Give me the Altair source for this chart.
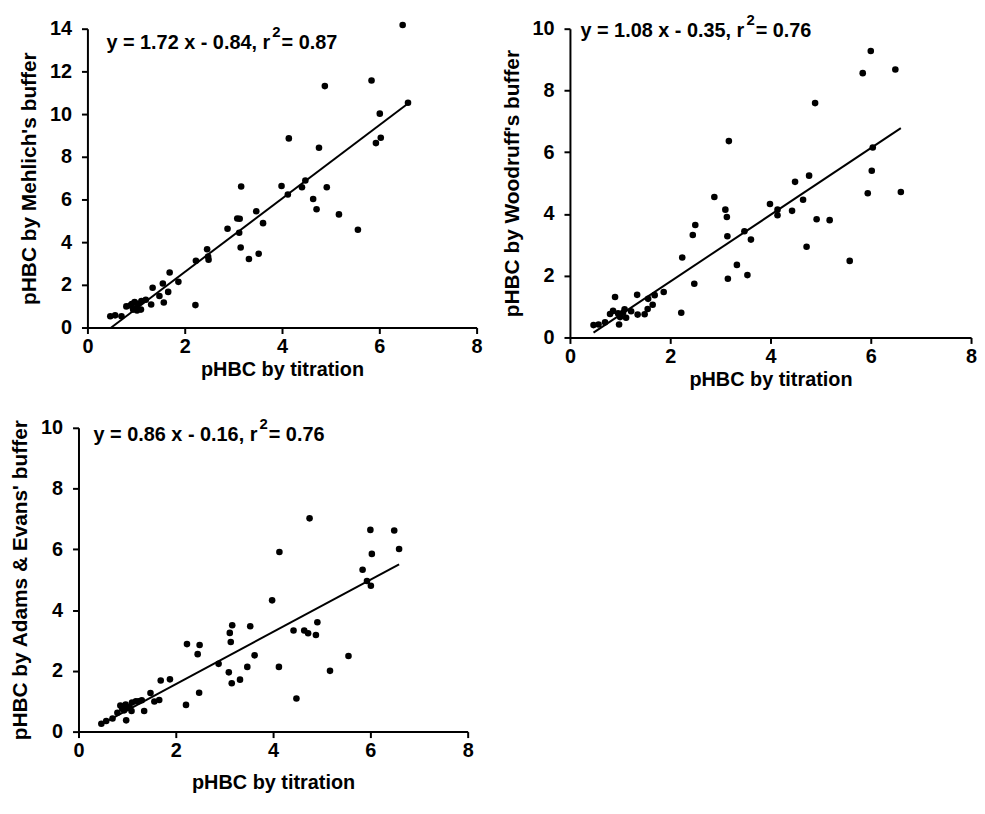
import altair as alt
import pandas as pd

# ---------------- data ----------------
p1_x = [0.47, 0.57, 0.70, 0.80, 0.88, 0.91, 0.94, 0.97, 1.00, 1.02, 1.04, 1.10, 1.11, 1.20, 1.31,
        1.34, 1.48, 1.55, 1.57, 1.66, 1.69, 1.87, 2.22, 2.23, 2.46, 2.48, 2.49, 2.88, 3.08, 3.13,
        3.12, 3.15, 3.16, 3.32, 3.47, 3.52, 3.61, 3.99, 4.12, 4.14, 4.41, 4.48, 4.64, 4.71, 4.76,
        4.88, 4.92, 5.17, 5.56, 5.84, 5.93, 6.01, 6.03, 6.48, 6.59]
p1_y = [0.53, 0.57, 0.53, 0.99, 1.03, 1.10, 0.84, 1.19, 0.90, 0.80, 1.11, 0.84, 1.24, 1.30, 1.08,
        1.86, 1.48, 2.06, 1.17, 1.67, 2.58, 2.14, 1.05, 3.13, 3.67, 3.33, 3.18, 4.63, 5.11, 5.10,
        4.44, 3.75, 6.61, 3.21, 5.45, 3.46, 4.89, 6.63, 6.23, 8.86, 6.57, 6.89, 6.02, 5.54, 8.42,
        11.31, 6.57, 5.30, 4.58, 11.57, 8.64, 10.02, 8.89, 14.17, 10.53]

p2_x = [0.47, 0.57, 0.70, 0.80, 0.86, 0.90, 0.96, 0.98, 1.00, 1.06, 1.09, 1.12, 1.22, 1.34, 1.35,
        1.49, 1.55, 1.56, 1.65, 1.69, 1.87, 2.22, 2.24, 2.45, 2.48, 2.50, 2.88, 3.10, 3.13, 3.14,
        3.15, 3.17, 3.33, 3.48, 3.54, 3.61, 3.99, 4.14, 4.14, 4.43, 4.49, 4.65, 4.72, 4.77, 4.89,
        4.92, 5.18, 5.58, 5.84, 5.94, 6.00, 6.02, 6.04, 6.49, 6.60]
p2_y = [0.40, 0.42, 0.49, 0.76, 0.86, 1.31, 0.78, 0.42, 0.66, 0.80, 0.91, 0.64, 0.85, 1.38, 0.74,
        0.75, 0.92, 1.25, 1.06, 1.37, 1.47, 0.80, 2.59, 3.32, 1.74, 3.64, 4.55, 4.14, 3.90, 3.28,
        1.90, 6.36, 2.35, 3.44, 2.02, 3.17, 4.32, 4.14, 3.96, 4.10, 5.04, 4.46, 2.94, 5.24, 7.59,
        3.83, 3.80, 2.48, 8.56, 4.67, 9.28, 5.40, 6.15, 8.68, 4.71]

p3_x = [0.47, 0.57, 0.70, 0.80, 0.86, 0.90, 0.94, 0.97, 0.98, 1.00, 1.05, 1.09, 1.10, 1.18, 1.24,
        1.30, 1.35, 1.48, 1.56, 1.66, 1.69, 1.88, 2.21, 2.23, 2.45, 2.48, 2.49, 2.88, 3.09, 3.11,
        3.13, 3.15, 3.16, 3.32, 3.47, 3.53, 3.62, 3.98, 4.12, 4.13, 4.42, 4.48, 4.64, 4.72, 4.75,
        4.88, 4.91, 5.17, 5.55, 5.84, 5.93, 6.00, 6.01, 6.03, 6.49, 6.59]
p3_y = [0.26, 0.35, 0.43, 0.62, 0.86, 0.75, 0.70, 0.89, 0.37, 0.78, 0.80, 0.68, 0.96, 1.00, 1.00,
        1.03, 0.68, 1.27, 0.99, 1.04, 1.68, 1.72, 0.88, 2.88, 2.55, 1.28, 2.85, 2.23, 1.95, 3.25,
        2.95, 1.59, 3.50, 1.71, 2.13, 3.47, 2.51, 4.32, 2.13, 5.91, 3.33, 1.09, 3.33, 3.24, 7.02,
        3.18, 3.60, 2.00, 2.49, 5.33, 4.96, 6.64, 4.80, 5.85, 6.62, 6.01]

slopes = [1.72, 1.08, 0.86]
intercepts = [-0.84, -0.35, -0.16]
r_squared = [0.87, 0.76, 0.76]
y_titles = ["pHBC by Mehlich's buffer", "pHBC by Woodruff's buffer", "pHBC by Adams & Evans' buffer"]
y_max = [14, 10, 10]
x_title = "pHBC by titration"
x_ticks = [0, 2, 4, 6, 8]

# ---------------- styling ----------------
FONT = "Liberation Sans"
EQ_SIZE = 20
SUP_SIZE = 15
LABEL_SIZE = 20
XTITLE_SIZE = 20
YTITLE_SIZE = 21

# Arial/Liberation Sans Bold advance widths (per 1000 em)
AW = {" ": 278, "y": 556, "=": 584, ".": 278, "x": 556, "-": 333, ",": 278, "r": 389}
for d in "0123456789":
    AW[d] = 556


def tw(s, size):
    return sum(AW.get(c, 556) for c in s) * size / 1000.0


def panel(xs, ys, slope, intercept, r2, ymax, ytitle, width, height, eq_x, eq_y,
          shift=0, xtitle_pad=3):
    df = pd.DataFrame({"x": xs, "y": ys})
    if shift:
        xscale = alt.Scale(domain=[0, 8], nice=False, range=[shift, shift + width])
    else:
        xscale = alt.Scale(domain=[0, 8], nice=False)
    yscale = alt.Scale(domain=[0, ymax], nice=False)
    xaxis = alt.Axis(values=x_ticks, title=x_title, labelFlush=False,
                     titlePadding=xtitle_pad, labelPadding=3, titleFontSize=XTITLE_SIZE)
    yaxis = alt.Axis(values=list(range(0, ymax + 1, 2)), title=ytitle, offset=-shift,
                     labelPadding=10, titlePadding=10, titleFontSize=YTITLE_SIZE)

    pts = alt.Chart(df).mark_circle(size=44, color="black", opacity=1).encode(
        x=alt.X("x:Q", scale=xscale, axis=xaxis),
        y=alt.Y("y:Q", scale=yscale, axis=yaxis),
    )

    ldf = pd.DataFrame({"x": [min(xs), max(xs)]})
    line = alt.Chart(ldf).transform_calculate(
        y=f"{slope} * datum.x + ({intercept})"
    ).mark_line(color="black", strokeWidth=2).encode(x="x:Q", y="y:Q")

    part_a = f"y = {slope:.2f} x - {abs(intercept):.2f}, r"
    part_b = "2"
    part_c = f" = {r2:.2f}"
    wa = tw(part_a, EQ_SIZE) + 2
    wb = tw(part_b, SUP_SIZE) + 1

    def txt(s, size, dx, dy, baseline="alphabetic"):
        return alt.Chart(pd.DataFrame({"t": [s]})).mark_text(
            align="left", baseline=baseline, font=FONT, fontWeight="bold",
            fontSize=size, color="black", dx=dx, dy=dy
        ).encode(x=alt.datum(eq_x), y=alt.datum(eq_y), text="t:N")

    eq = (txt(part_a, EQ_SIZE, 0, 0)
          + txt(part_b, SUP_SIZE, wa, -24, baseline="top")
          + txt(part_c, EQ_SIZE, wa + wb, 0))

    return alt.layer(pts, line, eq).properties(width=width + shift, height=height)


c1 = panel(p1_x, p1_y, slopes[0], intercepts[0], r_squared[0], y_max[0], y_titles[0],
           392, 301, 0.39, 13.07, shift=9, xtitle_pad=3)
c2 = panel(p2_x, p2_y, slopes[1], intercepts[1], r_squared[1], y_max[1], y_titles[1],
           404, 311, 0.21, 9.73, xtitle_pad=3)
c3 = panel(p3_x, p3_y, slopes[2], intercepts[2], r_squared[2], y_max[2], y_titles[2],
           392, 306, 0.31, 9.58, xtitle_pad=12)

top = alt.hconcat(c1, c2, spacing=18)
chart = alt.vconcat(top, c3, spacing=27).properties(
    padding={"left": 1, "top": 2, "right": 0, "bottom": 0}
).configure_view(stroke=None).configure_axis(
    grid=False,
    domainColor="black", domainWidth=2,
    tickColor="black", tickWidth=2, tickSize=6,
    labelFont=FONT, labelFontSize=LABEL_SIZE, labelFontWeight="bold", labelColor="black",
    titleFont=FONT, titleFontWeight="bold", titleColor="black",
)

chart.save("out.html", embed_options={"renderer": "svg", "actions": False})
